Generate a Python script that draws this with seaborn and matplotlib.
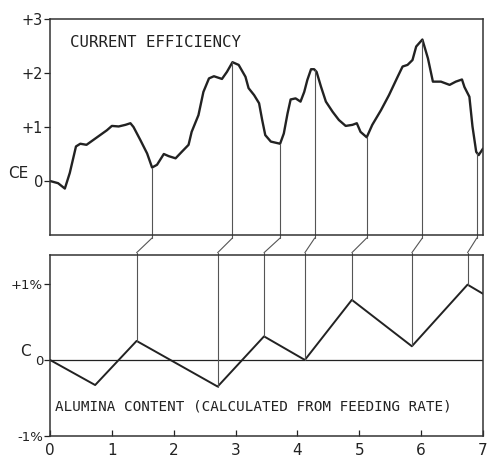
import numpy as np
import pandas as pd
import matplotlib
matplotlib.use("Agg")
import matplotlib.pyplot as plt
from matplotlib.patches import ConnectionPatch
import seaborn as sns

# ---- data ----
time_ce = [0, 0.13, 0.24, 0.32, 0.42, 0.49, 0.59, 0.70, 0.81, 0.92, 1.00, 1.11,
           1.22, 1.30, 1.35, 1.46, 1.57, 1.65, 1.73, 1.84, 1.92, 2.03, 2.13, 2.24,
           2.29, 2.40, 2.48, 2.57, 2.65, 2.78, 2.86, 2.95, 3.05, 3.16, 3.21, 3.30,
           3.38, 3.43, 3.48, 3.57, 3.72, 3.78, 3.84, 3.89, 3.97, 4.05, 4.11, 4.16,
           4.22, 4.27, 4.31, 4.38, 4.46, 4.57, 4.67, 4.78, 4.89, 4.96, 5.02, 5.12,
           5.21, 5.35, 5.48, 5.62, 5.70, 5.78, 5.86, 5.92, 6.02, 6.11, 6.19, 6.32,
           6.46, 6.56, 6.66, 6.70, 6.78, 6.83, 6.89, 6.93, 7.0]
ce = [0, -0.04, -0.14, 0.15, 0.64, 0.69, 0.67, 0.76, 0.85, 0.94, 1.02, 1.01,
      1.04, 1.07, 1.0, 0.76, 0.51, 0.25, 0.30, 0.50, 0.46, 0.42, 0.54, 0.67,
      0.91, 1.22, 1.65, 1.90, 1.94, 1.89, 2.02, 2.20, 2.15, 1.93, 1.72, 1.59,
      1.44, 1.13, 0.85, 0.73, 0.69, 0.88, 1.25, 1.51, 1.53, 1.47, 1.65, 1.87,
      2.07, 2.07, 2.02, 1.75, 1.47, 1.28, 1.13, 1.02, 1.04, 1.07, 0.91, 0.81,
      1.04, 1.31, 1.59, 1.93, 2.12, 2.15, 2.24, 2.49, 2.62, 2.27, 1.84, 1.84,
      1.78, 1.84, 1.88, 1.74, 1.56, 1.01, 0.54, 0.48, 0.60]

time_al = [0, 0.73, 1.40, 2.71, 3.46, 4.12, 4.88, 5.85, 6.75, 7.0]
alumina = [0, -0.33, 0.25, -0.35, 0.31, 0.0, 0.79, 0.18, 0.99, 0.87]

ce_marks = [1.65, 2.95, 3.72, 4.28, 5.12, 6.02, 6.90]
feed_marks = [1.40, 2.71, 3.46, 4.12, 4.88, 5.85, 6.75]

x_ticks = [0, 1, 2, 3, 4, 5, 6, 7]
ce_ticks = [0, 1, 2, 3]
ce_tick_labels = ["0", "+1", "+2", "+3"]
al_ticks = [-1, 0, 1]
al_tick_labels = ["-1%", "0", "+1%"]

# ---- style ----
sns.set_theme(style="white")
plt.rcParams["font.family"] = ["DejaVu Sans"]
ink = "#222222"
thin = "#555555"

fig = plt.figure(figsize=(4.87, 4.58), dpi=100)
W, H = 487, 458
ax1 = fig.add_axes([50 / W, (H - 235) / H, 433 / W, (235 - 19) / H])
ax2 = fig.add_axes([50 / W, (H - 436) / H, 433 / W, (436 - 255) / H])

ce_ylim = (-1.0, 3.0)
al_ylim = (-1.0, 1.38)

df_ce = pd.DataFrame({"t": time_ce, "ce": ce})
df_al = pd.DataFrame({"t": time_al, "al": alumina})

sns.lineplot(data=df_ce, x="t", y="ce", ax=ax1, color=ink, lw=1.7,
             estimator=None, sort=False)
sns.lineplot(data=df_al, x="t", y="al", ax=ax2, color=ink, lw=1.4,
             estimator=None, sort=False)
ax2.axhline(0, color=ink, lw=0.9)

for ax, yl in ((ax1, ce_ylim), (ax2, al_ylim)):
    ax.set_xlim(0, 7)
    ax.set_ylim(*yl)
    ax.set_xlabel("")
    ax.set_ylabel("")
    for s in ax.spines.values():
        s.set_color("#333333")
        s.set_linewidth(1.1)

# vertical marker lines and connectors
ext1 = 0.055
ext2 = 0.03
ce_at = np.interp(ce_marks, time_ce, ce)
al_at = np.interp(feed_marks, time_al, alumina)
for tc, vc, tf, vf in zip(ce_marks, ce_at, feed_marks, al_at):
    ax1.plot([tc, tc], [vc, ce_ylim[0] - ext1], color=thin, lw=0.8, clip_on=False)
    ax2.plot([tf, tf], [vf, al_ylim[1] + ext2], color=thin, lw=0.8, clip_on=False)
    con = ConnectionPatch(xyA=(tc, ce_ylim[0] - ext1), coordsA=ax1.transData,
                          xyB=(tf, al_ylim[1] + ext2), coordsB=ax2.transData,
                          color=thin, lw=0.8)
    fig.add_artist(con)

# ticks
ax1.set_xticks([])
ax1.set_yticks(ce_ticks)
ax1.set_yticklabels(ce_tick_labels)
ax1.tick_params(axis="y", left=True, direction="out", length=4, width=0.9,
                pad=1, labelsize=10.5, colors=ink)

ax2.set_xticks(x_ticks)
ax2.set_xticklabels([str(v) for v in x_ticks])
ax2.tick_params(axis="x", bottom=True, direction="in", length=4, width=0.9,
                pad=5, labelsize=11, colors=ink)
ax2.set_yticks(al_ticks)
ax2.set_yticklabels(al_tick_labels)
ax2.tick_params(axis="y", left=True, direction="out", length=4, width=0.9,
                pad=1, labelsize=9.5, colors=ink)

# texts
mono = "DejaVu Sans Mono"
ax1.text(0.046, 0.889, "CURRENT EFFICIENCY", transform=ax1.transAxes,
         family=mono, fontsize=11.3, color=ink, va="center", ha="left")
ax2.text(0.012, 0.162, "ALUMINA CONTENT (CALCULATED FROM FEEDING RATE)",
         transform=ax2.transAxes, family=mono, fontsize=10.3, color=ink,
         va="center", ha="left")
fig.text(18 / W, (H - 173) / H, "CE", fontsize=11, color=ink,
         ha="center", va="center")
fig.text(25 / W, (H - 351) / H, "C", fontsize=11, color=ink,
         ha="center", va="center")

fig.savefig("out.png", dpi=100, facecolor="white")
